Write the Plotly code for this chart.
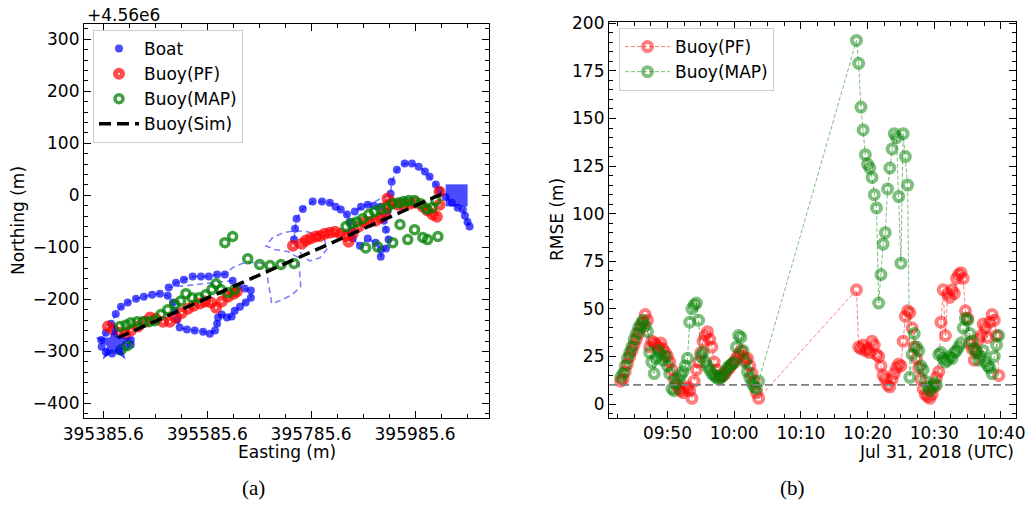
import plotly.graph_objects as go

# easting of the first tick label; eastings below are offsets from it (m)
E0 = 395385.6
DAY = "2018-07-31 "

# boat fixes before the transit (easting offset, northing - 4.56e6)
boat_e1 = [53, 53, 42, 30, 17, 5, -3, -4, 5, 15, 24, 34, 47, 63, 78, 94, 109, 124, 134, 138,
           142, 147, 161, 176, 192, 205, 215, 219, 221, 228, 238, 247, 253, 263, 274, 284, 284, 272, 259, 249,
           126, 140, 155, 172, 188, 203, 219, 234]
boat_n1 = [-278, -287, -291, -299, -304, -301, -291, -278, -264, -247, -228, -214, -206, -199, -195, -191, -189, -193, -206, -222,
           -239, -254, -258, -260, -262, -266, -260, -247, -235, -229, -235, -233, -222, -214, -206, -197, -183, -179, -176, -164,
           -177, -168, -162, -156, -156, -156, -152, -152]
# boat track with no fixes
gap_e = [249, 267, 288, 307, 315, 317, 321, 324, 344, 363, 380, 378, 376, 355, 330, 313, 326, 346, 369, 392,
         411, 426, 430, 417, 397, 382, 371]
gap_n = [-139, -131, -129, -131, -143, -166, -187, -208, -201, -191, -176, -147, -120, -108, -104, -97, -81, -72, -68, -70,
         -74, -85, -104, -120, -126, -114, -97]
# boat fixes after the transit
boat_e2 = [367, 369, 372, 384, 403, 421, 436, 447, 457, 469, 474, 478, 480, 494, 509, 524, 534, 534, 544, 549,
           544, 540, 547, 534, 521, 509, 496, 484, 553, 555, 565, 580, 594, 607, 619, 628, 640, 647, 659, 671,
           682, 692, 696, 701, 705]
boat_n2 = [-85, -64, -45, -26, -12, -12, -14, -22, -27, -37, -51, -68, -83, -97, -83, -91, -104, -118, -102, -85,
           -66, -49, -31, -22, -20, -18, -22, -31, 3, 26, 49, 61, 61, 55, 46, 36, 21, 9, -3, -14,
           -24, -27, -39, -51, -60]

pf_e = [9, 19, 30, 42, 53, 67, 80, 90, 101, 115, 128, 140, 151, 163, 174, 186, 196, 207, 217, 228,
        240, 251, 257, 365, 382, 390, 399, 409, 417, 426, 436, 446, 457, 467, 472, 480, 492, 503, 513, 524,
        534, 542, 547, 547, 555, 567, 578, 590, 601, 615, 624, 634, 642, 647, 647]
pf_n = [-252, -258, -264, -266, -260, -252, -243, -235, -237, -243, -243, -235, -226, -218, -212, -208, -204, -206, -216, -204,
        -195, -189, -185, -97, -93, -87, -83, -79, -78, -74, -72, -70, -74, -78, -89, -74, -60, -51, -51, -49,
        -43, -35, -20, -6, -14, -18, -18, -16, -14, -22, -29, -37, -41, -18, 7]

map_e = [34, 46, 32, 44, 53, 65, 76, 88, 99, 111, 124, 138, 149, 159, 171, 184, 197, 209, 217, 226,
         240, 253, 234, 249, 278, 301, 321, 342, 367, 467, 478, 488, 499, 511, 522, 534, 546, 557, 569, 578,
         588, 599, 611, 622, 632, 640, 505, 528, 557, 571, 586, 599, 615, 624, 644]
map_n = [-297, -289, -252, -249, -245, -243, -243, -243, -241, -229, -220, -210, -203, -189, -197, -197, -191, -181, -170, -181,
         -187, -181, -91, -79, -122, -133, -135, -133, -131, -60, -54, -51, -45, -37, -31, -27, -24, -16, -14, -12,
         -10, -10, -16, -26, -24, -10, -101, -99, -91, -56, -85, -66, -81, -85, -79]

sim_e = [28, 661]
sim_n = [-274, 7]

start_e, start_n = [21], [-285]
end_e, end_n = [680], [0]

# RMSE time series (shared timestamps)
times = ["09:43:00", "09:43:20", "09:43:40", "09:44:00", "09:44:20", "09:44:40", "09:45:00", "09:45:20", "09:45:40", "09:46:00",
         "09:46:20", "09:46:40", "09:47:00", "09:47:20", "09:47:40", "09:48:00", "09:48:20", "09:48:40", "09:49:00", "09:49:20",
         "09:49:40", "09:50:00", "09:50:20", "09:50:40", "09:51:00", "09:51:20", "09:51:40", "09:52:00", "09:52:20", "09:52:40",
         "09:53:00", "09:53:20", "09:53:40", "09:54:00", "09:54:20", "09:54:40", "09:55:00", "09:55:20", "09:55:40", "09:56:00",
         "09:56:20", "09:56:40", "09:57:00", "09:57:20", "09:57:40", "09:58:00", "09:58:20", "09:58:40", "09:59:00", "09:59:20",
         "09:59:40", "10:00:00", "10:00:20", "10:00:40", "10:01:00", "10:01:20", "10:01:40", "10:02:00", "10:02:20", "10:02:40",
         "10:03:00", "10:03:20", "10:03:40",
         "10:18:20", "10:18:40", "10:19:00", "10:19:20", "10:19:40", "10:20:00", "10:20:20", "10:20:40", "10:21:00", "10:21:20",
         "10:21:40", "10:22:00", "10:22:20", "10:22:40", "10:23:00", "10:23:20", "10:23:40", "10:24:00", "10:24:20", "10:24:40",
         "10:25:00", "10:25:20", "10:25:40", "10:26:00", "10:26:20", "10:26:40", "10:27:00", "10:27:20", "10:27:40", "10:28:00",
         "10:28:20", "10:28:40", "10:29:00", "10:29:20", "10:29:40", "10:30:00", "10:30:20", "10:30:40", "10:31:00", "10:31:20",
         "10:31:40", "10:32:00", "10:32:20", "10:32:40", "10:33:00", "10:33:20", "10:33:40", "10:34:00", "10:34:20", "10:34:40",
         "10:35:00", "10:35:20", "10:35:40", "10:36:00", "10:36:20", "10:36:40", "10:37:00", "10:37:20", "10:37:40", "10:38:00",
         "10:38:20", "10:38:40", "10:39:00", "10:39:20", "10:39:40"]
rmse_pf = [12, 13, 17, 21, 25, 28, 31, 34, 37, 40, 43, 47, 44, 30, 33, 32, 31, 30, 32, 29,
           27, 25, 22, 18, 13, 10, 8, 7, 6, 8, 9, 7, 3, 12, 18, 22, 27, 33, 36, 38,
           34, 30, 22, 18, 15, 14, 15, 16, 18, 19, 21, 22, 24, 26, 28, 25, 23, 24, 20, 16,
           12, 6, 3,
           60, 30, 29, 31, 28, 29, 27, 33, 31, 26, 25, 20, 15, 13, 10, 9, 13, 16, 19, 21,
           20, 33, 46, 49, 48, 40, 30, 24, 19, 13, 8, 5, 4, 3, 5, 9, 14, 17, 43, 60,
           36, 58, 56, 60, 58, 66, 68, 69, 66, 49, 45, 32, 29, 23, 28, 34, 36, 42, 40, 35,
           43, 47, 44, 36, 15]
rmse_map = [14, 16, 20, 24, 27, 30, 34, 37, 40, 42, 44, 41, 38, 27, 22, 16, 24, 28, 26, 23,
            25, 20, 16, 8, 7, 11, 13, 15, 17, 20, 24, 43, 50, 52, 53, 44, 25, 27, 22, 20,
            18, 16, 15, 14, 13, 14, 15, 17, 19, 20, 21, 22, 30, 36, 35, 28, 22, 17, 14, 11,
            9, 8, 12,
            191, 179, 156, 144, 131, 126, 124, 119, 110, 103, 53, 68, 84, 90, 113, 124, 134, 142, 140, 109,
            74, 142, 130, 115, 14, 26, 37, 30, 28, 20, 18, 12, 9, 7, 9, 11, 10, 26, 27, 24,
            22, 23, 25, 24, 27, 28, 30, 32, 40, 45, 44, 37, 33, 29, 27, 23, 25, 28, 22, 20,
            19, 16, 25, 31, 36]

FONT = "DejaVu Sans"
W, H = 1030, 505


def px_x(p):
    return p / W


def px_y(p):
    return 1 - p / H


fig = go.Figure()

# --- (a) trajectories ---
track_e = [E0 + v for v in boat_e1 + gap_e + boat_e2]
track_n = boat_n1 + gap_n + boat_n2
fig.add_trace(go.Scatter(x=track_e, y=track_n, mode='lines', showlegend=False, hoverinfo='skip',
                         line=dict(color='rgba(0,0,255,0.5)', width=1.6, dash='6px,4px')))
fig.add_trace(go.Scatter(x=[E0 + v for v in boat_e1 + boat_e2], y=boat_n1 + boat_n2, mode='markers',
                         name='Boat', legendgroup='a1',
                         marker=dict(symbol='circle', size=8, color='rgba(0,0,255,0.7)', line=dict(width=0))))
red_a = 'rgba(255,0,0,0.7)'
green_a = 'rgba(0,128,0,0.75)'
fig.add_trace(go.Scatter(x=[E0 + v for v in pf_e], y=pf_n, mode='markers', name='Buoy(PF)', legendgroup='a2',
                         marker=dict(symbol='circle-open', size=7, color=red_a, line=dict(width=5, color=red_a))))
fig.add_trace(go.Scatter(x=[E0 + v for v in map_e], y=map_n, mode='markers', name='Buoy(MAP)', legendgroup='a3',
                         marker=dict(symbol='circle-open', size=8, color=green_a, line=dict(width=3.5, color=green_a))))
fig.add_trace(go.Scatter(x=[E0 + v for v in sim_e], y=sim_n, mode='lines', name='Buoy(Sim)', legendgroup='a4',
                         line=dict(color='black', width=3.5, dash='12px,6px')))
fig.add_trace(go.Scatter(x=[E0 + v for v in start_e], y=start_n, mode='markers', showlegend=False,
                         marker=dict(symbol='star', size=28, color='rgba(0,0,255,0.7)', line=dict(width=0))))
fig.add_trace(go.Scatter(x=[E0 + v for v in end_e], y=end_n, mode='markers', showlegend=False,
                         marker=dict(symbol='square', size=22, color='rgba(0,0,255,0.7)', line=dict(width=0))))

# --- (b) RMSE ---
tx = [DAY + t for t in times]
red_b = 'rgba(255,0,0,0.5)'
green_b = 'rgba(0,128,0,0.5)'
fig.add_trace(go.Scatter(x=tx, y=rmse_pf, mode='lines+markers', name='Buoy(PF)', xaxis='x2', yaxis='y2',
                         legend='legend2', legendgroup='b1',
                         line=dict(color=red_b, width=1, dash='4px,2px'),
                         marker=dict(symbol='circle-open', size=9, color=red_b, line=dict(width=4, color=red_b))))
fig.add_trace(go.Scatter(x=tx, y=rmse_map, mode='lines+markers', name='Buoy(MAP)', xaxis='x2', yaxis='y2',
                         legend='legend2', legendgroup='b2',
                         line=dict(color=green_b, width=1, dash='4px,2px'),
                         marker=dict(symbol='circle-open', size=9, color=green_b, line=dict(width=4, color=green_b))))

axis_style = dict(ticks='inside', ticklen=7, tickwidth=1, tickcolor='black', showline=True, linecolor='black',
                  linewidth=1.2, mirror='ticks', showgrid=False, zeroline=False, automargin=False,
                  tickfont=dict(family=FONT, size=17, color='black'))

fig.update_layout(
    width=W, height=H, margin=dict(l=0, r=0, t=0, b=0),
    paper_bgcolor='white', plot_bgcolor='white',
    font=dict(family=FONT, size=17, color='black'),
    xaxis=dict(domain=[px_x(84), px_x(489)], anchor='y', range=[E0 - 37.1, E0 + 742.3],
               tickmode='linear', tick0=E0, dtick=200, tickformat='.1f',
               minor=dict(ticks='inside', ticklen=4, tickwidth=1, tickcolor='black', tick0=E0, dtick=50),
               **axis_style),
    yaxis=dict(domain=[px_y(418), px_y(24)], anchor='x', range=[-428, 329.4],
               tickmode='linear', tick0=0, dtick=100,
               minor=dict(ticks='inside', ticklen=4, tickwidth=1, tickcolor='black', dtick=20),
               **axis_style),
    xaxis2=dict(domain=[px_x(609), px_x(1016)], anchor='y2', type='date',
                range=[DAY + "09:41:14", DAY + "10:42:15"],
                tickmode='linear', tick0=DAY + "09:50:00", dtick=600000, tickformat='%H:%M',
                minor=dict(ticks='inside', ticklen=4, tickwidth=1, tickcolor='black',
                           tick0=DAY + "09:50:00", dtick=150000),
                **axis_style),
    yaxis2=dict(domain=[px_y(417.7), px_y(22)], anchor='x2', range=[-7.2, 200.7],
                tickmode='linear', tick0=0, dtick=25,
                minor=dict(ticks='inside', ticklen=4, tickwidth=1, tickcolor='black', dtick=5),
                **axis_style),
    legend=dict(x=px_x(93), y=px_y(30), xanchor='left', yanchor='top', bgcolor='rgba(255,255,255,0.8)',
                bordercolor='#cccccc', borderwidth=1, font=dict(family=FONT, size=17), tracegroupgap=0,
                itemwidth=40),
    legend2=dict(x=px_x(619), y=px_y(28), xanchor='left', yanchor='top', bgcolor='rgba(255,255,255,0.8)',
                 bordercolor='#cccccc', borderwidth=1, font=dict(family=FONT, size=17), tracegroupgap=0,
                 itemwidth=45),
    shapes=[dict(type='line', xref='x2 domain', yref='y2', x0=0, x1=1, y0=10, y1=10,
                 line=dict(color='gray', width=1.8, dash='8px,4px'))],
)

notes = [
    dict(text='+4.56e6', x=px_x(85), y=px_y(14.5), xanchor='left', yanchor='middle'),
    dict(text='Northing (m)', x=px_x(18), y=px_y(221), textangle=-90),
    dict(text='Easting (m)', x=px_x(286.5), y=px_y(452)),
    dict(text='RMSE (m)', x=px_x(557), y=px_y(220), textangle=-90),
    dict(text='Jul 31, 2018 (UTC)', x=px_x(1016), y=px_y(452), xanchor='right'),
    dict(text='(a)', x=px_x(253), y=px_y(488), font=dict(family='Liberation Serif', size=21)),
    dict(text='(b)', x=px_x(792), y=px_y(488), font=dict(family='Liberation Serif', size=21)),
]
for n in notes:
    n.setdefault('xanchor', 'center')
    n.setdefault('yanchor', 'middle')
    fig.add_annotation(xref='paper', yref='paper', showarrow=False, **n)

# the page body has a default 8px margin; drop it so the figure fills the window
fig.write_html("out.html", config={'displayModeBar': False},
               post_script="document.body.style.margin='0';")
